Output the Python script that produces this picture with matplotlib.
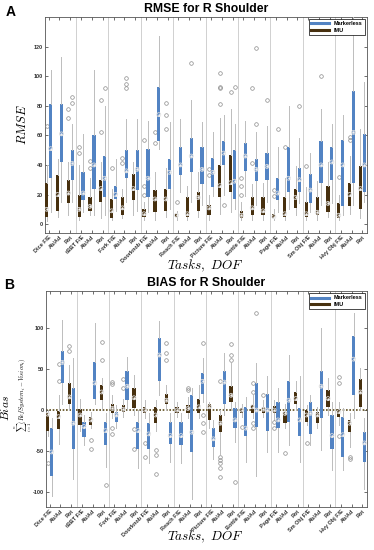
import numpy as np
import matplotlib.pyplot as plt
from matplotlib.lines import Line2D

plt.rcParams['font.family'] = ['Liberation Sans', 'DejaVu Sans']
plt.rcParams['mathtext.fontset'] = 'cm'

# tasks and degrees of freedom
tasks = ['Dice', 'tBBT', 'Fork', 'Doorknob', 'Reach', 'Picture', 'Bottle', 'Page', 'Sm Obj', 'Hvy Obj']
dofs = ['F/E', 'Ab/Ad', 'Rot']
tick_labels = []
for t in tasks:
    tick_labels += [t + ' ' + dofs[0], dofs[1], dofs[2]]

# box stats: (whisker low, q1, median, q3, whisker high)
rmse_ml = [(8, 31, 51, 81, 104), (15, 42, 61, 81, 113), (15, 30, 41, 50, 68),
           (8, 16, 21, 35, 61), (6, 24, 40, 60, 104), (6, 18, 31, 46, 80),
           (9, 17, 20, 26, 44), (15, 31, 36, 50, 71), (9, 23, 37, 50, 71),
           (8, 18, 31, 51, 70), (51, 56, 74, 93, 127), (10, 24, 35, 44, 69),
           (22, 33, 40, 52, 71), (15, 35, 46, 58, 84), (13, 27, 37, 52, 69),
           (19, 25, 35, 45, 62), (20, 40, 48, 56, 74), (10, 17, 29, 50, 68),
           (19, 36, 46, 55, 70), (13, 29, 37, 44, 62), (15, 30, 39, 48, 66),
           (8, 16, 21, 31, 52), (10, 22, 31, 52, 80), (14, 22, 30, 38, 58),
           (8, 14, 23, 34, 48), (13, 28, 40, 56, 78), (14, 30, 42, 52, 68),
           (6, 12, 40, 57, 74), (13, 28, 62, 90, 140), (15, 22, 40, 61, 96)]
rmse_ml_out = [[], [], [86, 82], [], [], [92], [], [99, 95, 92], [], [],
               [], [], [], [109], [], [], [13], [93], [], [119, 68],
               [84], [64], [], [80], [], [100], [], [], [], []]

rmse_imu = [(2, 5, 10, 28, 40), (5, 9, 20, 33, 44), (6, 14, 21, 30, 42),
            (3, 5, 10, 20, 40), (6, 9, 12, 18, 31), (4, 15, 24, 30, 42),
            (3, 4, 9, 17, 24), (4, 6.5, 11, 18, 24), (6, 16, 24, 34, 42),
            (3, 5, 7, 10, 15), (3, 8, 17, 23, 35), (5, 9, 17, 24, 38),
            (3, 4.5, 6, 7, 9), (3, 5, 7, 18, 26), (5, 9, 18, 22, 35),
            (3, 6, 11, 13, 20), (7, 18, 26, 40, 72), (8, 22, 28, 47, 78),
            (3, 4, 6, 9, 15), (3, 6, 11, 18, 27), (3, 6, 9, 18, 28),
            (3, 4, 5, 7, 10), (3, 5, 7, 18, 31), (6, 11, 18, 24, 39),
            (3, 4.5, 7, 15, 25), (3, 6, 8, 18, 29), (5, 8, 14, 26, 42),
            (3, 4, 6, 14, 20), (7, 12, 20, 28, 46), (4, 10, 24, 39, 64)]
rmse_imu_out = [[66], [], [78, 72], [52, 48], [43, 38], [84, 62], [38], [45, 41], [], [57, 26, 20],
                [62, 55], [82, 74, 64], [15], [], [], [37, 33], [102, 93, 92, 81], [89], [31, 26, 20], [92, 41],
                [], [23, 19], [52], [], [39], [], [], [32], [59, 57], []]

bias_ml = [(-104, -80, -51, -22, -10), (8, 33, 58, 72, 110), (-84, -47, -16, 27, 63),
           (-43, -33, -20, -14, -6), (8, 14, 33, 59, 106), (-69, -43, -25, -14, -4),
           (-22, -14, -6, -2, 6), (0, 12, 29, 48, 65), (-71, -47, -25, -14, 0),
           (-65, -47, -29, -16, -4), (18, 35, 67, 88, 108), (-63, -41, -31, -14, -4),
           (-65, -43, -31, -14, -4), (-108, -51, -27, 18, 27), (10, 20, 35, 45, 63),
           (-59, -45, -35, -22, -12), (-6, 8, 34, 47, 69), (-39, -22, -12, 2, 10),
           (-63, -31, -22, 4, 16), (-80, -20, 0, 33, 57), (-51, -25, 0, 19, 41),
           (-51, -22, -12, 10, 27), (-43, -14, 12, 36, 67), (-63, -31, -12, 2, 41),
           (-43, -29, -4, 10, 18), (-49, -10, 29, 47, 100), (-73, -47, -31, -6, 10),
           (-73, -57, -30, -8, 2), (-10, 18, 62, 90, 118), (-96, -63, -40, -27, -10)]
bias_ml_out = [[], [], [], [], [], [-91], [], [], [], [],
               [], [], [], [], [82, -6, -16, -27], [], [], [-87], [], [118],
               [], [], [], [], [], [], [], [], [], []]

bias_imu = [(-31, -25, -5, -3, 0), (-41, -23, -8, -1, 18), (0, 8, 16, 33, 55),
            (-25, -18, -6, 1, 14), (-22, -18, -12, -8, -2), (0, 12, 22, 31, 39),
            (-10, -4, 2, 8, 18), (-8, -2, 1, 6, 14), (-6, 2, 15, 27, 43),
            (-10, -4, 0, 4, 12), (-25, -16, -6, 4, 12), (0, 8, 12, 20, 31),
            (-8, -4, 0, 4, 10), (-10, -4, 2, 6, 16), (-10, -4, 4, 14, 30),
            (-22, -12, 4, 8, 10), (-53, -27, -16, -6, 0), (0, 10, 18, 29, 57),
            (-8, -3, 0, 2, 8), (-10, -4, 4, 6, 18), (-8, -3, 1, 4, 12),
            (-12, -3, 0, 5, 12), (-22, -16, -4, -2, 8), (0, 8, 14, 22, 35),
            (-18, -14, -6, 0, 6), (-22, -16, -6, -2, 4), (-6, 4, 14, 25, 39),
            (-18, -9, -2, 1, 10), (-45, -27, -16, -12, -4), (0, 4, 22, 38, 51)]
bias_imu_out = [[-65], [56, 35], [78, 72], [], [-37, -47], [83, 61], [34, 32, -22, -29], [38, 27], [-23, -47], [-40, -57],
                [-49, -55, -78], [82, 69, 61], [], [27, 25], [], [], [35, -57, -61, -65, -71, -82], [80, 67, 61], [-20], [33, 22, -16, -22],
                [18], [-14, -22], [-52], [], [-40], [], [], [40, 33, -31], [-57, -60], []]

ml_color = '#5283c3'
imu_color = '#47300f'

W, H = 374, 550
fig = plt.figure(figsize=(W / 100, H / 100), dpi=100)


def px(x, y):
    return x / W, 1 - y / H


def draw(ax, stats5, outs, pos, color):
    st = [dict(whislo=s[0], q1=s[1], med=s[2], q3=s[3], whishi=s[4], fliers=o)
          for s, o in zip(stats5, outs)]
    ax.bxp(st, positions=pos, widths=0.3, patch_artist=True, showcaps=False,
           boxprops=dict(facecolor=color, edgecolor=color, linewidth=0),
           whiskerprops=dict(color='#bcbcbc', lw=0.7),
           medianprops=dict(visible=False),
           flierprops=dict(marker='o', mfc='none', mec='#8a8a8a', ms=2.6, mew=0.5),
           zorder=3, manage_ticks=False)
    meds = [s[2] for s in stats5]
    ax.scatter(pos, meds, s=8, facecolor='none', edgecolor='#dcdcdc', lw=0.6, zorder=4)
    ax.scatter(pos, meds, s=0.6, color='#f0f0f0', zorder=5)


def setup(ax, ylim, yticks):
    x = np.arange(1, 31)
    for s in np.arange(3.5, 30, 3):
        ax.axvline(s, color='#d0d0d0', lw=0.7, zorder=1)
    ax.set_xlim(0.66, 30.43)
    ax.set_ylim(*ylim)
    ax.set_xticks(x)
    ax.set_xticklabels(tick_labels, rotation=45, ha='right', rotation_mode='anchor',
                       fontsize=4, fontweight='bold')
    ax.set_yticks(yticks)
    ax.set_yticklabels([str(v) for v in yticks], fontsize=4, fontweight='bold')
    ax.tick_params(direction='in', length=2, width=0.5, top=True, right=True, pad=1.5,
                   colors='#333333')
    for sp in ax.spines.values():
        sp.set_color('#555555')
        sp.set_linewidth(0.6)
    handles = [Line2D([], [], color=ml_color, lw=2.2), Line2D([], [], color=imu_color, lw=2.2)]
    leg = ax.legend(handles, ['Markerless', 'IMU'], loc='upper right',
                    prop=dict(size=4, weight='bold'), handlelength=3.3, borderpad=0.4,
                    borderaxespad=0.4, fancybox=False, edgecolor='black', framealpha=1,
                    labelspacing=0.2)
    leg.get_frame().set_linewidth(0.5)


x = np.arange(1, 31)
axA = fig.add_axes([45 / W, 1 - 233 / H, 322 / W, 216 / H])
setup(axA, (-6, 140), [0, 20, 40, 60, 80, 100, 120])
draw(axA, rmse_imu, rmse_imu_out, x - 0.18, imu_color)
draw(axA, rmse_ml, rmse_ml_out, x + 0.18, ml_color)

axB = fig.add_axes([46 / W, 1 - 507 / H, 321 / W, 216 / H])
setup(axB, (-118, 145), [-100, -50, 0, 50, 100])
axB.axhline(0, color='#5b4a1a', lw=1.2, ls=(0, (1, 1)), zorder=2.5)
draw(axB, bias_imu, bias_imu_out, x - 0.18, imu_color)
draw(axB, bias_ml, bias_ml_out, x + 0.18, ml_color)

# texts
fig.text(*px(11, 12), 'A', fontsize=10, fontweight='bold', ha='center', va='center')
fig.text(*px(206, 9), 'RMSE for R Shoulder', fontsize=8.8, fontweight='bold', ha='center', va='center')
fig.text(*px(22, 125), '$RMSE$', fontsize=9, rotation=90, ha='center', va='center')
fig.text(*px(205, 266), r'$Tasks,\ DOF$', fontsize=9.5, ha='center', va='center')

fig.text(*px(9, 285), 'B', fontsize=10, fontweight='bold', ha='center', va='center')
fig.text(*px(206, 283), 'BIAS for R Shoulder', fontsize=8.8, fontweight='bold', ha='center', va='center')
fig.text(*px(6, 408), '$Bias$', fontsize=8.5, rotation=90, ha='center', va='center')
fig.text(*px(23, 395), r'$\sum_{i=1}^{n}(RefSystem_i - Vision_i)$', fontsize=4.5, rotation=90,
         ha='center', va='center')
fig.text(*px(205, 537), r'$Tasks,\ DOF$', fontsize=9.5, ha='center', va='center')

fig.savefig('out.png', dpi=100)
